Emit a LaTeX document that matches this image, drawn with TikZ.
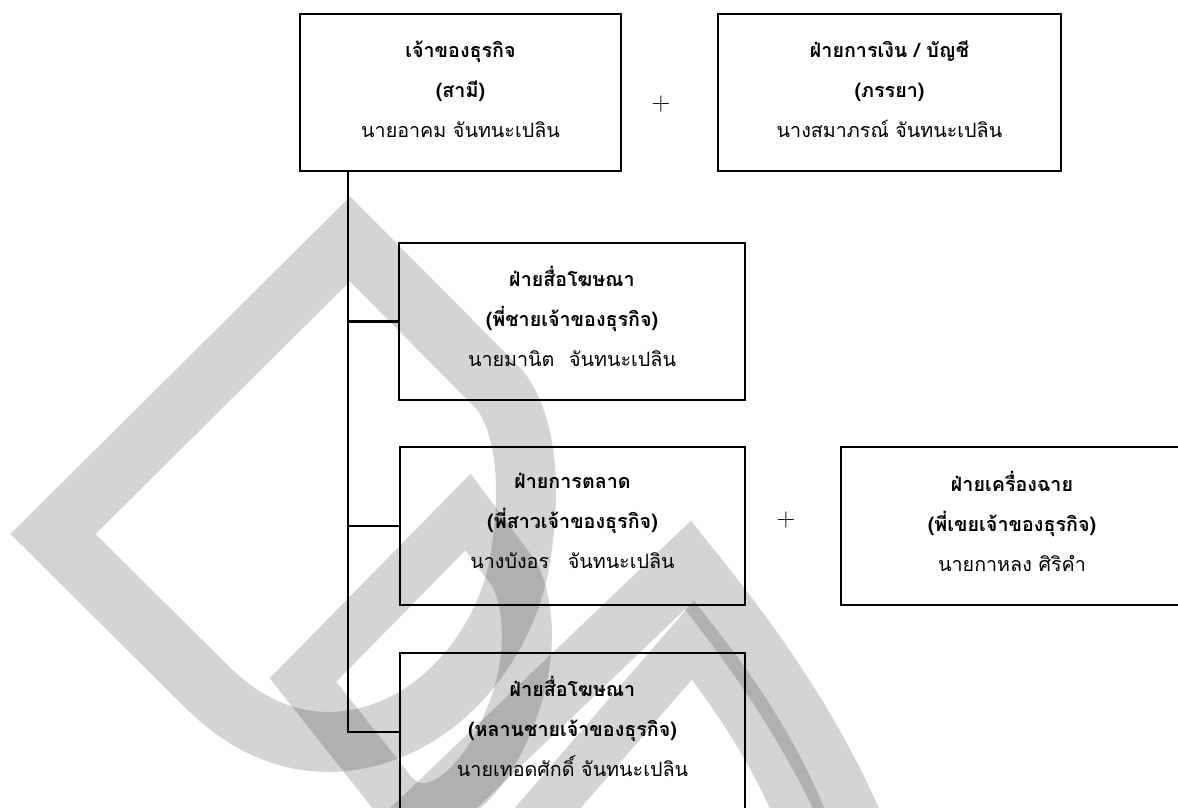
\documentclass[tikz,border=0pt]{standalone}
\usepackage{fontspec}
\newfontfamily\thai[Script=Thai]{Loma}
\begin{document}
\begin{tikzpicture}[x=1pt,y=-1pt,
  box/.style={draw=black, line width=2.2pt, inner sep=0pt},
  txt/.style={inner sep=0pt, align=center, font=\thai\fontsize{19.7}{40}\selectfont},
  link/.style={draw=black, line width=2.2pt},
  wm/.style={draw=black, draw opacity=0.17, line width=60pt, line join=miter, miter limit=3},
  wmthin/.style={wm, line width=50pt},
  plus/.style={font=\fontsize{26}{26}\selectfont, inner sep=0pt}]
\useasboundingbox (0,0) rectangle (1178,807);
% watermark
\draw[wm] (350,239) -- (500,390) .. controls (530,430) and (530,500) .. (520,560)
  .. controls (505,650) and (430,740) .. (330,742) .. controls (280,742) and (240,720) .. (205,685)
  -- (53,534) -- cycle;
\draw[wmthin] (468,512) -- (303,680) -- (390,790) .. controls (420,830) and (470,800) .. (500,740)
  .. controls (530,680) and (535,620) .. (515,575) -- cycle;
\draw[wm] (400,840) -- (688,565) .. controls (740,630) and (810,720) .. (860,840);
\draw[wmthin] (520,840) -- (693,640) .. controls (740,700) and (780,760) .. (810,840);
% boxes
\node[box, minimum width=321pt, minimum height=157pt] (b1) at (460.5,92.5) {};
\node[box, minimum width=343pt, minimum height=157pt] (b2) at (889.5,92.5) {};
\node[box, minimum width=346pt, minimum height=157pt] (b3) at (572,321.5) {};
\node[box, minimum width=345pt, minimum height=158pt] (b4) at (572.5,526) {};
\node[box, minimum width=342pt, minimum height=158pt] (b5) at (1012,526) {};
\node[box, minimum width=345pt, minimum height=158pt] (b6) at (572.5,732) {};
% texts
\node[txt] (t1) at ([yshift=3pt]b1.center)
  {{\bfseries เจ้าของธุรกิจ}\\{\bfseries (สามี)}\\นายอาคม จันทนะเปลิน};
\node[txt] (t2) at ([yshift=3pt]b2.center)
  {{\bfseries ฝ่ายการเงิน / บัญชี}\\{\bfseries (ภรรยา)}\\นางสมาภรณ์ จันทนะเปลิน};
\node[txt] (t3) at ([yshift=5pt]b3.center)
  {{\bfseries ฝ่ายสื่อโฆษณา}\\{\bfseries (พี่ชายเจ้าของธุรกิจ)}\\นายมานิต\hspace{8pt} จันทนะเปลิน};
\node[txt] (t4) at ([yshift=5pt]b4.center)
  {{\bfseries ฝ่ายการตลาด}\\{\bfseries (พี่สาวเจ้าของธุรกิจ)}\\นางบังอร\hspace{12pt} จันทนะเปลิน};
\node[txt] (t5) at ([yshift=5pt]b5.center)
  {{\bfseries ฝ่ายเครื่องฉาย}\\{\bfseries (พี่เขยเจ้าของธุรกิจ)}\\นายกาหลง ศิริคำ};
\node[txt] (t6) at ([yshift=6pt]b6.center)
  {{\bfseries ฝ่ายสื่อโฆษณา}\\{\bfseries (หลานชายเจ้าของธุรกิจ)}\\นายเทอดศักดิ์ จันทนะเปลิน};
% plus signs
\node[plus] (p1) at (661,104) {+};
\node[plus] (p2) at (786,520) {+};
% connectors
\coordinate (trunk) at ([xshift=49pt]b1.south west);
\draw[link] (trunk) |- (b3.west);
\draw[link] (trunk) |- (b4.west);
\draw[link] (trunk) |- (b6.west);
\end{tikzpicture}
\end{document}
